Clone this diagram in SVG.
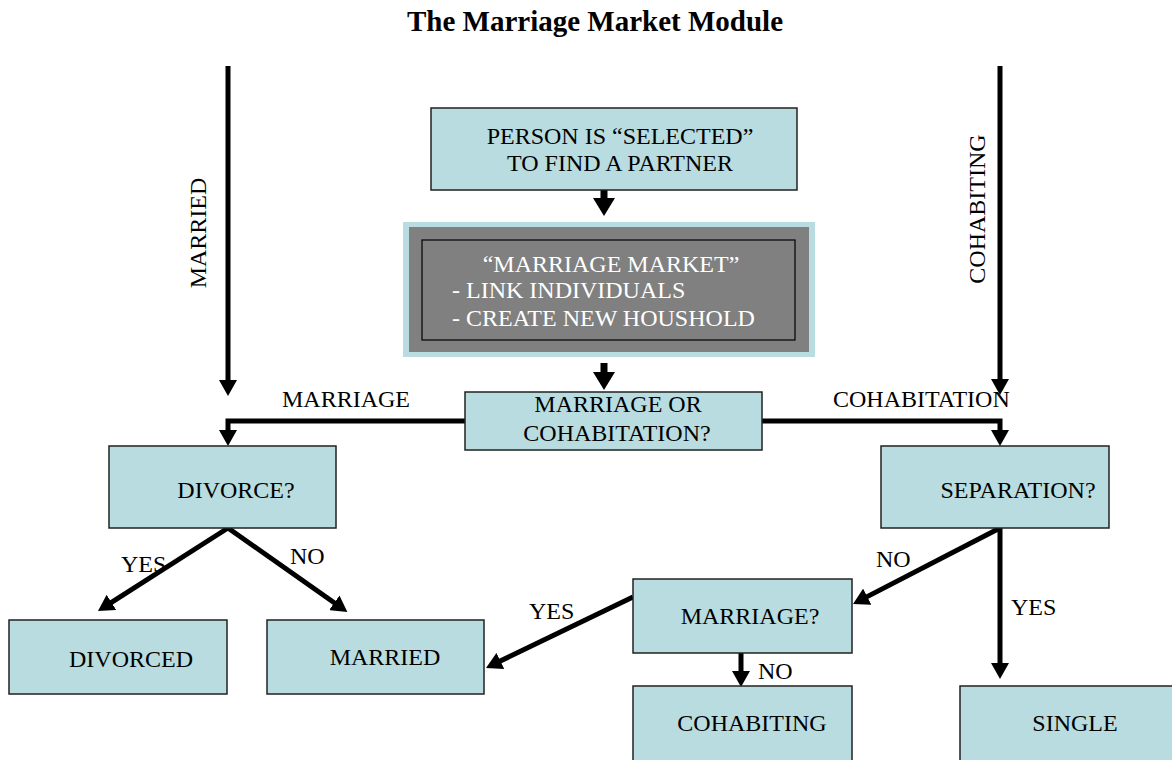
<svg xmlns="http://www.w3.org/2000/svg" width="1172" height="760" viewBox="0 0 1172 760">
<style>
text{font-family:'Liberation Serif','Times New Roman',serif;font-size:24px;fill:#000}
.t{font-size:29px;font-weight:bold}
.m{text-anchor:middle}
.w{fill:#fff}
.box{fill:#b8dce0;stroke:#222;stroke-width:1.5}
.c{fill:none;stroke:#000;stroke-width:5;marker-end:url(#ah)}
.s{fill:none;stroke:#000;stroke-width:7;marker-end:url(#ahb)}
</style>
<defs>
<marker id="ah" markerUnits="userSpaceOnUse" viewBox="0 0 16 18" markerWidth="16" markerHeight="18" refX="6" refY="9" orient="auto">
<path d="M0,0 L16,9 L0,18 z" fill="#000"/>
</marker>
<marker id="ahb" markerUnits="userSpaceOnUse" viewBox="0 0 18 22" markerWidth="18" markerHeight="22" refX="4" refY="11" orient="auto">
<path d="M0,0 L18,11 L0,22 z" fill="#000"/>
</marker>
</defs>
<rect width="1172" height="760" fill="#fff"/>
<text class="t m" x="595" y="31">The Marriage Market Module</text>

<g id="connectors">
<line class="c" x1="228" y1="66" x2="228" y2="386"/>
<line class="c" x1="1000" y1="66" x2="1000" y2="385"/>
<line class="s" x1="604" y1="190" x2="604" y2="202"/>
<line class="s" x1="604" y1="363" x2="604" y2="376"/>
<polyline class="c" points="465,421 228,421 228,436"/>
<polyline class="c" points="762,421 1000,421 1000,436"/>
<line class="c" x1="228" y1="528" x2="106.4" y2="605.6"/>
<line class="c" x1="228" y1="528" x2="339.2" y2="606.2"/>
<line class="c" x1="1000" y1="528" x2="861.9" y2="599.4"/>
<line class="c" x1="1000" y1="528" x2="1000" y2="669"/>
<line class="c" x1="633" y1="597" x2="495" y2="663.6"/>
<line class="c" x1="741" y1="653" x2="741" y2="677"/>
</g>

<g id="labels">
<text transform="translate(206,233) rotate(-90)" class="m">MARRIED</text>
<text transform="translate(985,209) rotate(-90)" class="m">COHABITING</text>
<text x="282" y="407">MARRIAGE</text>
<text x="833" y="407">COHABITATION</text>
<text x="121" y="572">YES</text>
<text x="290" y="564">NO</text>
<text x="876" y="567">NO</text>
<text x="1011" y="615">YES</text>
<text x="529" y="619">YES</text>
<text x="758" y="679">NO</text>
</g>

<g id="selected">
<rect class="box" x="431" y="108" width="366" height="82"/>
<text class="m" x="620" y="144">PERSON IS “SELECTED”</text>
<text class="m" x="620" y="171">TO FIND A PARTNER</text>
</g>

<g id="market">
<rect x="403" y="222" width="412" height="135" fill="#b8dce0"/>
<rect x="409" y="227" width="400" height="125" fill="#808080"/>
<rect x="422" y="240" width="373" height="100" fill="none" stroke="#000" stroke-width="1.2"/>
<text class="m w" x="611" y="272">“MARRIAGE MARKET”</text>
<text class="w" x="452" y="298">- LINK INDIVIDUALS</text>
<text class="w" x="452" y="326">- CREATE NEW HOUSHOLD</text>
</g>

<g id="choice">
<rect class="box" x="465" y="392" width="297" height="58"/>
<text class="m" x="618" y="412">MARRIAGE OR</text>
<text class="m" x="617" y="441">COHABITATION?</text>
</g>

<g id="divorce">
<rect class="box" x="109" y="446" width="227" height="82"/>
<text class="m" x="236" y="498">DIVORCE?</text>
</g>

<g id="separation">
<rect class="box" x="881" y="446" width="228" height="82"/>
<text class="m" x="1018" y="498">SEPARATION?</text>
</g>

<g id="divorced">
<rect class="box" x="9" y="620" width="218" height="74"/>
<text class="m" x="131" y="667">DIVORCED</text>
</g>

<g id="married">
<rect class="box" x="267" y="620" width="217" height="74"/>
<text class="m" x="385" y="665">MARRIED</text>
</g>

<g id="marriageq">
<rect class="box" x="633" y="579" width="219" height="74"/>
<text class="m" x="750" y="624">MARRIAGE?</text>
</g>

<g id="cohabiting">
<rect class="box" x="633" y="686" width="219" height="80"/>
<text class="m" x="752" y="731">COHABITING</text>
</g>

<g id="single">
<rect class="box" x="960" y="686" width="220" height="80"/>
<text class="m" x="1075" y="731">SINGLE</text>
</g>
</svg>
